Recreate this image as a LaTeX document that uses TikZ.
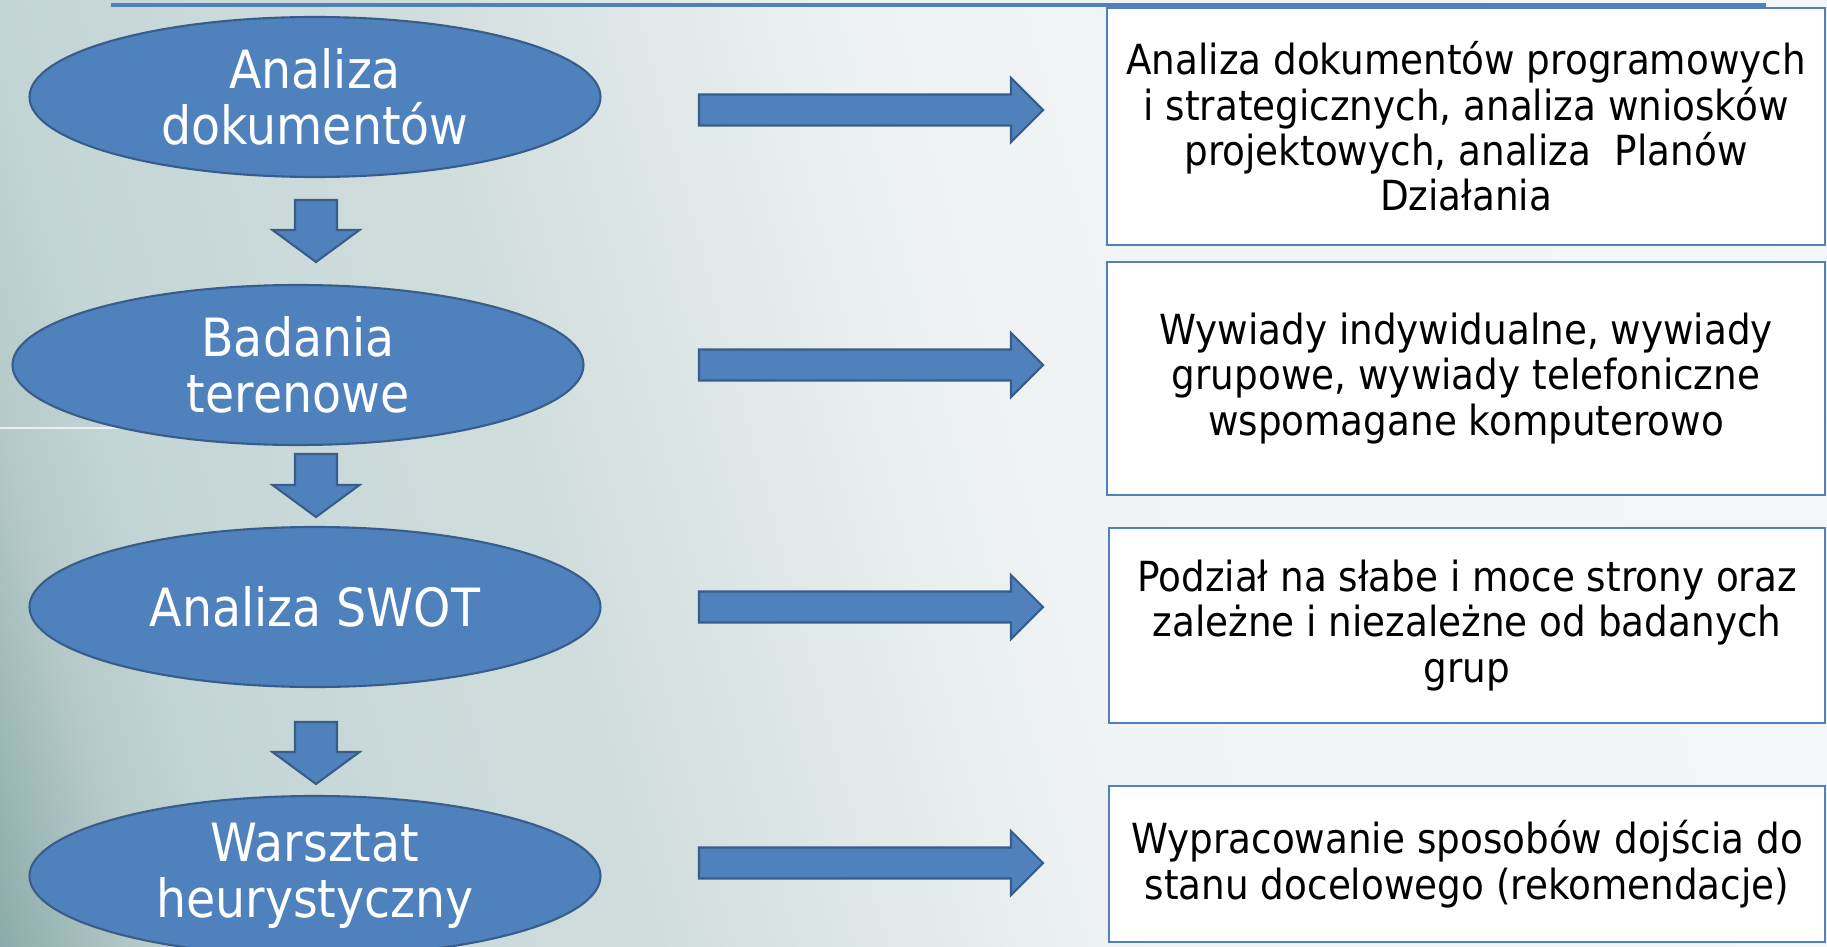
\documentclass[tikz,border=0pt]{standalone}
\usepackage{fontspec}
\setmainfont{DejaVu Sans}[FakeStretch=0.9]
\usetikzlibrary{shapes.geometric,calc,positioning}

\definecolor{stagefill}{HTML}{4F81BD}
\definecolor{stageedge}{HTML}{385D8A}
\definecolor{resultedge}{HTML}{4F81BD}
\definecolor{bga}{HTML}{8AACAA}
\definecolor{bgb}{HTML}{B6C9C8}
\definecolor{bgc}{HTML}{C4D5D5}
\definecolor{bgd}{HTML}{D0DDDD}
\definecolor{bge}{HTML}{EAEFEF}
\definecolor{bgf}{HTML}{F0F3F4}
\definecolor{bgg}{HTML}{F4F7F8}

\pgfdeclarehorizontalshading{slide background}{100bp}{color(0bp)=(bga); color(25bp)=(bga);
  color(28.4bp)=(bgb); color(31.1bp)=(bgc); color(40.8bp)=(bgd); color(50bp)=(bge);
  color(53bp)=(bgf); color(75bp)=(bgg); color(100bp)=(bgg)}

\tikzset{
    stage/.style={ellipse, draw=stageedge, fill=stagefill, line width=0.6pt, text=white,
        font=\fontsize{15}{16}\selectfont, align=center, inner sep=0pt,
        minimum width=5.71cm, minimum height=1.6cm},
    result/.style={rectangle, draw=resultedge, fill=white, line width=0.65pt,
        font=\fontsize{11.8}{12.9}\selectfont, align=center, inner sep=0pt,
        minimum width=7.18cm},
    block arrow/.style={draw=stageedge, fill=stagefill, line width=0.6pt, line join=miter},
    top rule/.style={draw=stagefill, line width=1.15pt},
}

\newcommand{\blockright}[2]{%
    \draw[block arrow] ($(#1)+(0,.155)$) -- ($(#2)+(-.32,.155)$) -- ($(#2)+(-.32,.32)$) -- (#2)
    -- ($(#2)+(-.32,-.32)$) -- ($(#2)+(-.32,-.155)$) -- ($(#1)+(0,-.155)$) -- cycle;}
\newcommand{\blockdown}[2]{%
    \draw[block arrow] ($(#1)+(-.21,0)$) -- ($(#2)+(-.21,.32)$) -- ($(#2)+(-.435,.32)$) -- (#2)
    -- ($(#2)+(.435,.32)$) -- ($(#2)+(.21,.32)$) -- ($(#1)+(.21,0)$) -- cycle;}

\begin{document}
\begin{tikzpicture}[
            seam/.style={white, line width=0.4pt, opacity=0.7}
        ]
        \clip (0,0) rectangle (18.27,-9.47);
        \begin{scope}[transform canvas={shift={(0,-9.47)},rotate=15}]
            \shade[shading=slide background] (0,-4.9) rectangle (20.1,9.3);
        \end{scope}

        \coordinate (SeamStart) at (0,-4.28);
        \coordinate (SeamEnd) at (2.98,-4.28);
        \draw[seam] (SeamStart) -- (SeamEnd);
        \coordinate (RuleStart) at (1.11,-0.053);
        \coordinate (RuleEnd) at (17.66,-0.053);
        \draw[top rule] (RuleStart) -- (RuleEnd);

        \node[stage] (e1) at (3.15,-0.97) {Analiza\\dokumentów};
        \node[stage] (e2) at (2.98,-3.65) {Badania\\terenowe};
        \node[stage] (e3) at (3.15,-6.07) {Analiza SWOT};
        \node[stage] (e4) at (3.15,-8.76) {Warsztat\\heurystyczny};

        \node[result, minimum height=2.37cm] (b1) at (14.66,-1.265)
        {Analiza dokumentów programowych\\i strategicznych, analiza wniosków\\projektowych, analiza~ Planów\\Działania};
        \node[result, minimum height=2.33cm] (b2) at (14.66,-3.785)
        {Wywiady indywidualne, wywiady\\grupowe, wywiady telefoniczne\\wspomagane komputerowo};
        \node[result, minimum height=1.95cm, minimum width=7.16cm] (b3) at (14.67,-6.255)
        {Podział na słabe i moce strony oraz\\zależne i niezależne od badanych\\grup};
        \node[result, minimum height=1.56cm, minimum width=7.16cm] (b4) at (14.67,-8.64)
        {Wypracowanie sposobów dojścia do\\stanu docelowego (rekomendacje)};

        \coordinate (d1s) at (3.16,-2.00);
        \coordinate (d1t) at (3.16,-2.62);
        \coordinate (d2s) at (3.16,-4.54);
        \coordinate (d2t) at (3.16,-5.17);
        \coordinate (d3s) at (3.16,-7.22);
        \coordinate (d3t) at (3.16,-7.84);
        \blockdown{d1s}{d1t}
        \blockdown{d2s}{d2t}
        \blockdown{d3s}{d3t}

        \coordinate (r1s) at (6.99,-1.10);
        \coordinate (r1t) at (10.43,-1.10);
        \coordinate (r2s) at (6.99,-3.65);
        \coordinate (r2t) at (10.43,-3.65);
        \coordinate (r3s) at (6.99,-6.07);
        \coordinate (r3t) at (10.43,-6.07);
        \coordinate (r4s) at (6.99,-8.63);
        \coordinate (r4t) at (10.43,-8.63);
        \blockright{r1s}{r1t}
        \blockright{r2s}{r2t}
        \blockright{r3s}{r3t}
        \blockright{r4s}{r4t}
    \end{tikzpicture}
\end{document}
